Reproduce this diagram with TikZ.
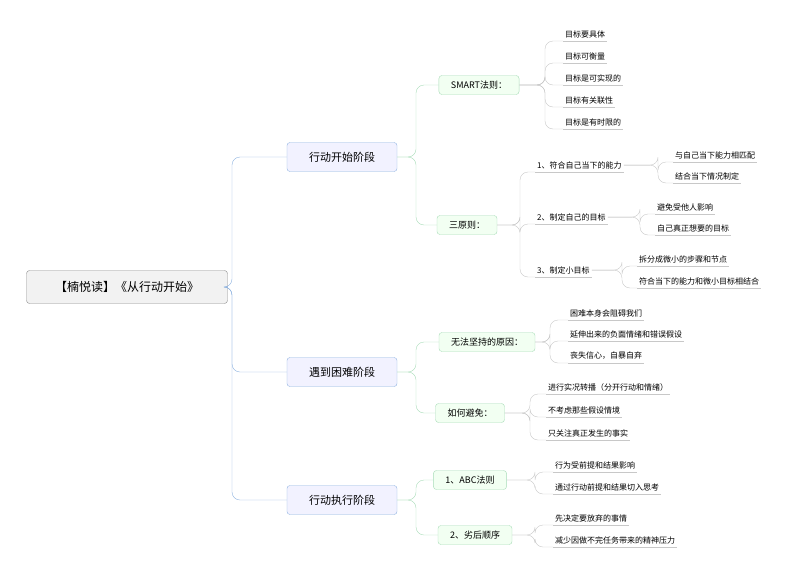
\documentclass[tikz,border=0pt]{standalone}
\usepackage{fontspec}
\setmainfont{Noto Sans CJK SC}
\usetikzlibrary{positioning}
\definecolor{bline}{HTML}{8FB3E0}
\definecolor{gline}{HTML}{A8DCB8}
\definecolor{lline}{HTML}{C8C8C8}
\tikzset{
    rootnode/.style={
        draw=black!45,
        fill=black!5,
        rounded corners=3pt,
        minimum width=201pt,
        minimum height=33pt,
        font=\fontsize{12}{14}\selectfont
    },
    stagenode/.style={
        draw=bline,
        fill=blue!5,
        rounded corners=3pt,
        minimum width=110pt,
        minimum height=29pt,
        font=\fontsize{11}{13}\selectfont
    },
    partnode/.style={
        draw=gline,
        fill=green!5,
        rounded corners=3pt,
        minimum height=19pt,
        inner xsep=12pt,
        font=\fontsize{9}{11}\selectfont
    },
    leafnode/.style={
        anchor=south west,
        inner xsep=2pt,
        inner ysep=3pt,
        font=\fontsize{8}{10}\selectfont
    },
    bconn/.style={draw=bline, rounded corners=8pt},
    gconn/.style={draw=gline, rounded corners=8pt},
    lconn/.style={draw=lline, rounded corners=8pt}
}
\begin{document}
\begin{tikzpicture}[x=1pt, y=-1pt]
\useasboundingbox (0,0) rectangle (800,573);
% 中心主题
\node[rootnode] (root) at (127,287) {【楠悦读】《从行动开始》};
% 阶段
\node[stagenode] (s1) at (342,157) {行动开始阶段};
\node[stagenode] (s2) at (342,372) {遇到困难阶段};
\node[stagenode] (s3) at (342,500) {行动执行阶段};
\coordinate (t0) at (232,0);
\foreach \s in {s1,s2,s3}
    \draw[bconn] (root.east) -- (root.east -| t0) |- (\s.west);
% 第二层
\node[partnode] (smart) at (479,85) {SMART法则：};
\node[partnode] (three) at (467,225) {三原则：};
\node[partnode] (why) at (487,342) {无法坚持的原因：};
\node[partnode] (avoid) at (470,413) {如何避免：};
\node[partnode] (abc) at (470,480) {1、ABC法则};
\node[partnode] (order) at (475,535) {2、劣后顺序};
\coordinate (t1) at (416,0);
\foreach \s/\p in {s1/smart,s1/three,s2/why,s2/avoid,s3/abc,s3/order}
    \draw[gconn] (\s.east) -- (\s.east -| t1) |- (\p.west);
% 三原则
\node[leafnode] (r1) at (535,172) {1、符合自己当下的能力};
\node[leafnode] (r2) at (535,224) {2、制定自己的目标};
\node[leafnode] (r3) at (535,277) {3、制定小目标};
\coordinate (t2) at (520,0);
\foreach \r in {r1,r2,r3} {
    \draw[lconn] (three.east) -- (three.east -| t2) |- (\r.south west);
    \draw[lline] (\r.south west) -- (\r.south east);
}
% 叶子
\foreach \p/\x/\tx/\n/\y/\txt in {
    smart/563/545/a1/41/目标要具体,
    smart/563/545/a2/63/目标可衡量,
    smart/563/545/a3/85/目标是可实现的,
    smart/563/545/a4/107/目标有关联性,
    smart/563/545/a5/129/目标是有时限的,
    r1/673/658/b1/162/与自己当下能力相匹配,
    r1/673/658/b2/183/结合当下情况制定,
    r2/655/640/b3/214/避免受他人影响,
    r2/655/640/b4/235/自己真正想要的目标,
    r3/637/622/b5/266/拆分成微小的步骤和节点,
    r3/637/622/b6/288/符合当下的能力和微小目标相结合,
    why/568/550/c1/320/困难本身会阻碍我们,
    why/568/550/c2/341/延伸出来的负面情绪和错误假设,
    why/568/550/c3/363/丧失信心，自暴自弃,
    avoid/546/530/d1/394/进行实况转播（分开行动和情绪）,
    avoid/546/530/d2/417/不考虑那些假设情境,
    avoid/546/530/d3/440/只关注真正发生的事实,
    abc/553/535/e1/472/行为受前提和结果影响,
    abc/553/535/e2/494/通过行动前提和结果切入思考,
    order/553/535/f1/525/先决定要放弃的事情,
    order/553/535/f2/547/减少因做不完任务带来的精神压力%
} {
    \node[leafnode] (\n) at (\x,\y) {\txt};
    \coordinate (tx) at (\tx,0);
    \ifx\p r1 \def\pa{south east}\else\def\pa{east}\fi
    \draw[lconn] (\p.east) -- (\p.east -| tx) |- (\n.south west);
    \draw[lline] (\n.south west) -- (\n.south east);
}
\end{tikzpicture}
\end{document}
